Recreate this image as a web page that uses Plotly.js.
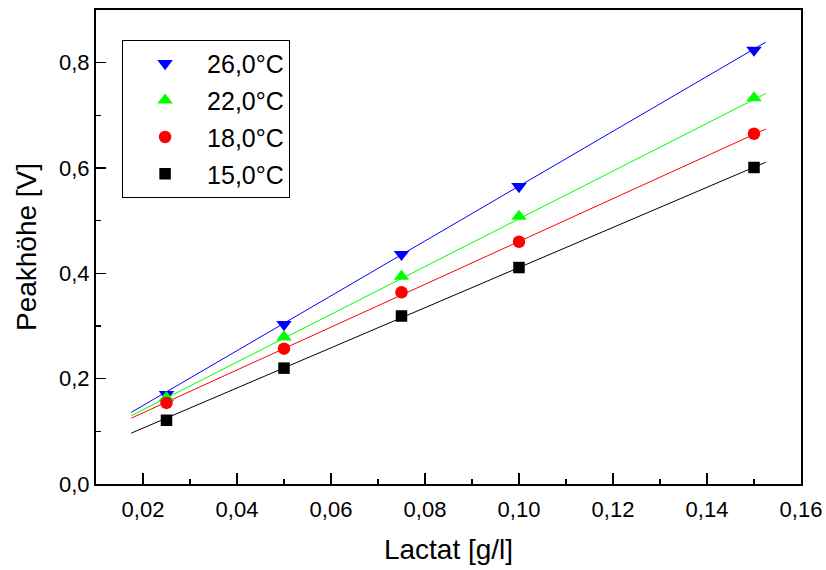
<!DOCTYPE html>
<html>
<head>
<meta charset="utf-8">
<script src="https://cdn.plot.ly/plotly-3.0.1.min.js"></script>
<style>html,body{margin:0;padding:0;background:#fff;}#chart{width:826px;height:570px;}</style>
</head>
<body>
<div id="chart"></div>
<script>
// Data
const lactat = [0.025, 0.05, 0.075, 0.1, 0.15];
const series = ["26,0°C", "22,0°C", "18,0°C", "15,0°C"];
const peak26 = [0.170, 0.303, 0.436, 0.565, 0.824];
const peak22 = [0.164, 0.279, 0.394, 0.508, 0.733];
const peak18 = [0.154, 0.257, 0.364, 0.460, 0.665];
const peak15 = [0.121, 0.220, 0.319, 0.411, 0.601];
// Linear fit lines (end points)
const fitX = [0.0175, 0.1525];
const fit26 = [0.136, 0.839];
const fit22 = [0.1295, 0.7415];
const fit18 = [0.125, 0.674];
const fit15 = [0.0966, 0.611];

const colors = ["#0000ff", "#00ff00", "#ff0000", "#000000"];
const symbols = ["triangle-down", "triangle-up", "circle", "square"];
const sizes = [13.5, 13.5, 12.5, 11.5];
const peaks = [peak26, peak22, peak18, peak15];
const fits = [fit26, fit22, fit18, fit15];

const traces = [];
fits.forEach((f, i) => {
  traces.push({x: fitX, y: f, mode: "lines", line: {color: colors[i], width: 1},
    showlegend: false, hoverinfo: "skip"});
});
peaks.forEach((p, i) => {
  traces.push({x: lactat, y: p, mode: "markers", name: series[i], legendgroup: "g" + i,
    marker: {symbol: symbols[i], size: sizes[i], color: colors[i], line: {width: 0}}});
});

const font = "Liberation Sans, Arial, sans-serif";
const layout = {
  width: 826, height: 570,
  margin: {l: 96, r: 25, t: 10, b: 86},
  paper_bgcolor: "#fff", plot_bgcolor: "#fff",
  separators: ",.",
  font: {family: font, color: "#000", size: 22},
  showlegend: true,
  legend: {x: 0.037, y: 0.9374, xanchor: "left", yanchor: "top",
    bordercolor: "#000", borderwidth: 1, bgcolor: "#fff",
    font: {family: font, size: 25, color: "#000"},
    itemwidth: 74, traceorder: "grouped", tracegroupgap: 1.3},
  xaxis: {range: [0.01, 0.16], dtick: 0.02, tick0: 0, tickformat: ".2f",
    showgrid: false, zeroline: false, showline: true, linecolor: "#000", linewidth: 2,
    mirror: true, ticks: "inside", ticklen: 11, tickwidth: 1.5, tickcolor: "#000",
    minor: {dtick: 0.01, ticks: "inside", ticklen: 5, tickwidth: 1.5, tickcolor: "#000"},
    tickfont: {family: font, size: 22}, ticklabelstandoff: 5,
    title: {text: "Lactat [g/l]", font: {family: font, size: 28}, standoff: 18}},
  yaxis: {range: [0, 0.9], dtick: 0.2, tick0: 0, tickformat: ".1f",
    showgrid: false, zeroline: false, showline: true, linecolor: "#000", linewidth: 2,
    mirror: true, ticks: "inside", ticklen: 10, tickwidth: 1.5, tickcolor: "#000",
    minor: {dtick: 0.1, ticks: "inside", ticklen: 5, tickwidth: 1.5, tickcolor: "#000"},
    tickfont: {family: font, size: 22},
    title: {text: "Peakhöhe [V]", font: {family: font, size: 28}, standoff: 14}}
};

Plotly.newPlot("chart", traces, layout, {displayModeBar: false, staticPlot: true});
</script>
</body>
</html>
